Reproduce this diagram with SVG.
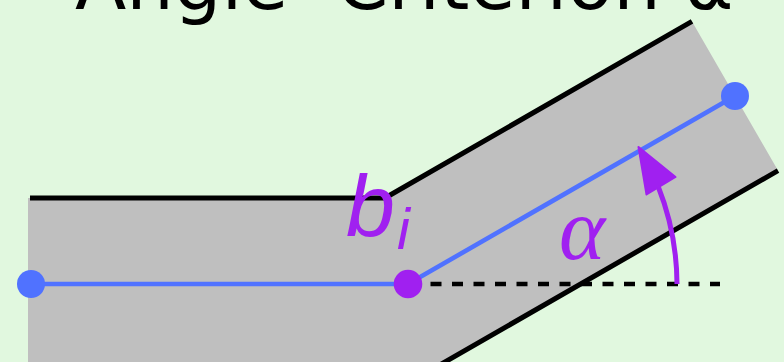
<svg xmlns="http://www.w3.org/2000/svg" width="784" height="362" viewBox="0 0 784 362">
  <style>
    .title { font-family: "DejaVu Sans", sans-serif; font-size: 75px; fill: #000; }
    .edge { fill: none; stroke: #000; stroke-width: 5; stroke-linejoin: round; }
    .center { fill: none; stroke: #5072ff; stroke-width: 4.6; }
    .lbl { fill: #a020f0; }
  </style>
  <rect x="0" y="0" width="784" height="362" fill="#e1f8df"/>
  <g id="title">
    <text class="title" x="75" y="9">Angle</text>
    <text class="title" x="336" y="9">Criterion</text>
    <text class="title" x="684" y="9">α</text>
  </g>
  <g id="band">
    <polygon points="28,198 385,198 692,21.4 778,170.6 431,370 28,370" fill="#bfbfbf"/>
    <polyline class="edge" points="30,198 385,198 692,21.4"/>
    <polyline class="edge" points="778,170.6 431,370 28,370"/>
  </g>
  <g id="connectors">
    <polyline class="center" points="32,284 408,284 735,96"/>
    <line x1="408" y1="284" x2="720" y2="284" stroke="#000" stroke-width="4.5" stroke-dasharray="11 10.5" stroke-dashoffset="-1"/>
    <path d="M 677,284 A 268 268 0 0 0 658,186" fill="none" stroke="#a020f0" stroke-width="5"/>
    <polygon points="638.5,147 675.5,177 646.5,194.5" fill="#a020f0" stroke="#a020f0" stroke-width="2" stroke-linejoin="round"/>
  </g>
  <g id="node-start"><circle cx="31" cy="284" r="14" fill="#5072ff"/></g>
  <g id="node-end"><circle cx="735" cy="96" r="14" fill="#5072ff"/></g>
  <g id="node-bi">
    <circle cx="408" cy="284" r="14.3" fill="#a020f0"/>
    <text class="lbl" x="346" y="236" font-family="'Liberation Sans', sans-serif" font-style="italic" font-size="88">b</text>
    <text class="lbl" x="397" y="249" font-family="'Liberation Sans', sans-serif" font-style="italic" font-size="58">i</text>
  </g>
  <g id="alpha-label">
    <text class="lbl" x="559" y="259" font-family="'Liberation Serif', serif" font-style="italic" font-size="88">α</text>
  </g>
</svg>
